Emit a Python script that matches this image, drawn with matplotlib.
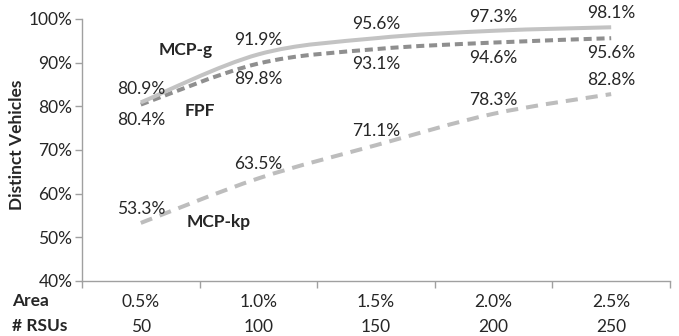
import matplotlib
matplotlib.use('Agg')
import matplotlib.pyplot as plt
from matplotlib.path import Path
from matplotlib.patches import PathPatch
import numpy as np

plt.rcParams['font.family'] = ['Lato', 'DejaVu Sans']

# ========== DATA ==========
area_labels = ['0.5%', '1.0%', '1.5%', '2.0%', '2.5%']
rsu_labels = ['50', '100', '150', '200', '250']
mcp_g = [80.9, 91.9, 95.6, 97.3, 98.1]
fpf = [80.4, 89.8, 93.1, 94.6, 95.6]
mcp_kp = [53.3, 63.5, 71.1, 78.3, 82.8]

FS = 12.5
TXT = '#262626'


def smooth_path(xs, ys):
    """Excel-like smoothed line: cubic Bezier segments through the points"""
    pts = np.column_stack([xs, ys]).astype(float)
    n = len(pts)
    verts = [pts[0]]
    codes = [Path.MOVETO]
    for i in range(n - 1):
        p0 = pts[i - 1] if i > 0 else pts[i]
        p1 = pts[i]
        p2 = pts[i + 1]
        p3 = pts[i + 2] if i + 2 < n else pts[i + 1]
        c1 = p1 + (p2 - p0) / 6.0
        c2 = p2 - (p3 - p1) / 6.0
        verts += [c1, c2, p2]
        codes += [Path.CURVE4] * 3
    return Path(verts, codes)


fig = plt.figure(figsize=(6.79, 3.36), dpi=100)
ax = fig.add_axes([0.1208, 0.1637, 0.8659, 0.7798])

x = np.arange(len(area_labels))

series = [
    (mcp_kp, '#bdbdbd', (0, (3.0, 2.0)), 10),
    (fpf, '#8f8f8f', (0, (2.0, 1.2)), -11),
    (mcp_g, '#c3c3c3', 'solid', 10),
]
for vals, color, ls, off in series:
    patch = PathPatch(smooth_path(x, vals), facecolor='none', edgecolor=color,
                      linewidth=2.9, linestyle=ls, capstyle='butt')
    ax.add_patch(patch)
    for xi, v in zip(x, vals):
        ax.annotate(f'{v:.1f}%', (xi, v), xytext=(0, off), textcoords='offset points',
                    ha='center', va='center', fontsize=FS, color=TXT)

# series names
ax.text(0.38, 92.8, 'MCP-g', fontsize=FS, fontweight='bold', ha='center', va='center', color=TXT)
ax.text(0.5, 79.0, 'FPF', fontsize=FS, fontweight='bold', ha='center', va='center', color=TXT)
ax.text(0.66, 53.4, 'MCP-kp', fontsize=FS, fontweight='bold', ha='center', va='center', color=TXT)

ax.set_xlim(-0.5, 4.5)
ax.set_ylim(40, 100)
ax.set_yticks(np.arange(40, 101, 10))
ax.set_yticklabels([f'{t}%' for t in range(40, 101, 10)], fontsize=FS, color=TXT)
ax.set_xticks(np.arange(-0.5, 4.6, 1))
ax.set_xticklabels([])
ax.tick_params(axis='both', direction='out', length=5, color='#a0a0a0', width=1)
ax.tick_params(axis='y', pad=2)

for side in ['top', 'right']:
    ax.spines[side].set_visible(False)
for side in ['left', 'bottom']:
    ax.spines[side].set_color('#a0a0a0')
    ax.spines[side].set_linewidth(1)

ax.set_ylabel('Distinct Vehicles', fontsize=FS, fontweight='bold', color=TXT, labelpad=1)
ax.yaxis.set_label_coords(-0.097, 0.52)

# two-row category labels
for xi, a, r in zip(x, area_labels, rsu_labels):
    ax.annotate(a, (xi, 0), xycoords=('data', 'axes fraction'), xytext=(0, -15),
                textcoords='offset points', ha='center', va='center', fontsize=FS, color=TXT)
    ax.annotate(r, (xi, 0), xycoords=('data', 'axes fraction'), xytext=(0, -33),
                textcoords='offset points', ha='center', va='center', fontsize=FS, color=TXT)
fig.text(12 / 679, 1 - 301 / 336, 'Area', fontsize=FS, fontweight='bold', ha='left', va='center', color=TXT)
fig.text(12 / 679, 1 - 326 / 336, '# RSUs', fontsize=FS, fontweight='bold', ha='left', va='center', color=TXT)

fig.savefig('out.png', dpi=100)
